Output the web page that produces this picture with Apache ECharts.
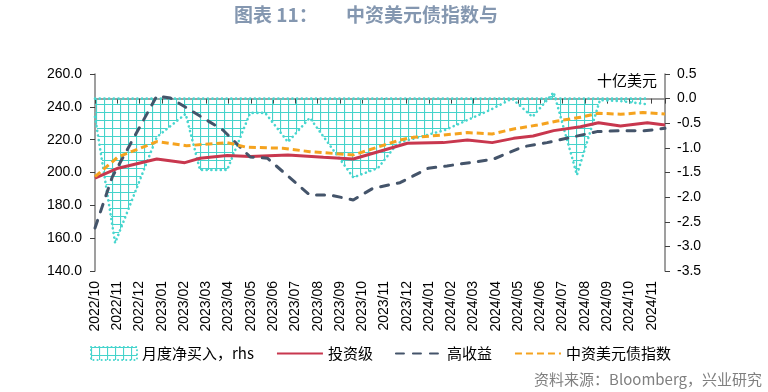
<!DOCTYPE html>
<html><head><meta charset="utf-8">
<script src="https://cdn.jsdelivr.net/npm/echarts/dist/echarts.min.js"></script>
<style>html,body{margin:0;padding:0;background:#fff}#c{width:768px;height:392px}</style>
</head><body><div id="c"></div>
<script>
// ---- data ----
const monthLabels = ['2022/10','2022/11','2022/12','2023/01','2023/02','2023/03','2023/04','2023/05','2023/06','2023/07','2023/08','2023/09','2023/10','2023/11','2023/12','2024/01','2024/02','2024/03','2024/04','2024/05','2024/06','2024/07','2024/08','2024/09','2024/10','2024/11'];

// 投资级 (lhs)
const igDates = ['2022-10-01','2022-11-02','2022-12-25','2023-02-02','2023-02-21','2023-03-30','2023-04-30','2023-06-21','2023-08-09','2023-09-19','2023-12-02','2024-01-21','2024-02-22','2024-03-27','2024-04-25','2024-05-22','2024-06-19','2024-07-26','2024-08-20','2024-09-19','2024-10-26','2024-11-19'];
const igValues = [196.5,202.6,208.2,206.0,208.7,210.3,209.8,210.7,209.3,208.2,217.8,218.2,219.8,218.2,220.8,222.2,225.5,227.9,230.3,228.3,230.3,228.9];

// 高收益 (lhs)
const hyDates = ['2022-10-01','2022-10-25','2022-12-25','2023-01-13','2023-02-21','2023-03-24','2023-04-30','2023-05-24','2023-07-21','2023-08-18','2023-09-19','2023-10-16','2023-11-22','2023-12-31','2024-01-26','2024-03-28','2024-05-08','2024-06-10','2024-08-18','2024-09-19','2024-10-20','2024-11-19'];
const hyValues = [166.2,197.3,246.6,245.4,234.4,225.9,209.5,208.7,186.3,186.3,183.3,190.4,193.8,202.6,204.0,208.0,215.7,218.2,224.9,225.5,225.3,226.9];

// 中资美元债指数 (lhs)
const idxDates = ['2022-10-01','2022-11-02','2022-12-25','2023-02-04','2023-03-30','2023-04-25','2023-06-14','2023-07-21','2023-09-19','2023-11-22','2023-12-10','2024-01-21','2024-02-22','2024-03-27','2024-04-25','2024-05-28','2024-06-24','2024-07-26','2024-08-20','2024-09-19','2024-10-20','2024-11-19'];
const idxValues = [197.5,209.5,218.8,216.3,218.2,215.4,214.8,212.7,210.7,219.8,221.4,222.8,224.3,223.5,226.5,228.9,231.4,233.6,236.1,235.5,236.5,235.6];

// 月度净买入 (rhs, 十亿美元)
const flowDates = ['2022-10-01','2022-10-29','2022-12-25','2023-02-03','2023-02-21','2023-03-30','2023-04-30','2023-05-21','2023-06-21','2023-07-21','2023-09-19','2023-10-23','2023-11-19','2024-01-23','2024-03-24','2024-04-23','2024-05-21','2024-06-10','2024-06-19','2024-07-21','2024-08-22','2024-09-19','2024-10-23'];
const flowValues = [-0.37,-2.93,-0.78,-0.31,-1.45,-1.45,-0.29,-0.29,-0.88,-0.39,-1.60,-1.41,-0.90,-0.64,-0.23,0.0,-0.37,-0.03,0.13,-1.55,-0.03,-0.05,-0.11];

const leftTicks = {min:140, max:260, step:20};
const rightTicks = {min:-3.5, max:0.5, step:0.5};

// ---- helpers ----
function toM(s){const p=s.split('-').map(Number);const dim=new Date(p[0],p[1],0).getDate();return (p[0]-2022)*12+(p[1]-10)+(p[2]-1)/dim;}
function pairs(ds,vs){return ds.map((d,i)=>[toM(d),vs[i]]);}

const TEAL='#49D6CF';
const cv=document.createElement('canvas');cv.width=8;cv.height=8;
const cx=cv.getContext('2d');cx.strokeStyle='#45D3CB';cx.lineWidth=1.2;
cx.beginPath();cx.moveTo(0,0.5);cx.lineTo(8,0.5);cx.moveTo(0.5,0);cx.lineTo(0.5,8);cx.stroke();
const hatch={image:cv,repeat:'repeat'};

const xMax=Math.max(toM(igDates[igDates.length-1]),toM(hyDates[hyDates.length-1]),toM(idxDates[idxDates.length-1]));
const CJK='"Noto Sans CJK SC", sans-serif';
const LAT='"Liberation Sans", Arial, sans-serif';
const axisLine={show:true,lineStyle:{color:'#7f7f7f',width:1.5}};
const axisTick={show:true,length:5,lineStyle:{color:'#404040',width:1}};
const noSym={opacity:0,color:'rgba(0,0,0,0)',borderWidth:0};

const chart=echarts.init(document.getElementById('c'),null,{renderer:'canvas'});
chart.setOption({
  animation:false,
  backgroundColor:'#fff',
  grid:{left:95,right:103,top:74,bottom:121,containLabel:false,outerBoundsMode:'none'},
  xAxis:{type:'value',min:0,max:xMax,interval:1,
    axisLine:axisLine,axisTick:axisTick,splitLine:{show:false},
    axisLabel:{rotate:90,margin:10,fontSize:14,fontFamily:LAT,color:'#000',
      formatter:v=>(Math.abs(v-Math.round(v))<1e-6&&monthLabels[Math.round(v)])?monthLabels[Math.round(v)]:''}},
  yAxis:[
    {type:'value',position:'left',min:leftTicks.min,max:leftTicks.max,interval:leftTicks.step,
     axisLine:axisLine,axisTick:axisTick,splitLine:{show:false},
     axisLabel:{margin:13,fontSize:14,fontFamily:LAT,color:'#000',formatter:v=>v.toFixed(1)}},
    {type:'value',position:'right',min:rightTicks.min,max:rightTicks.max,interval:rightTicks.step,
     axisLine:axisLine,axisTick:axisTick,splitLine:{show:false},
     axisLabel:{margin:12,fontSize:14,fontFamily:LAT,color:'#000',formatter:v=>v.toFixed(1)}}
  ],
  legend:{left:85,top:341,itemWidth:46,itemHeight:13,itemGap:22,selectedMode:false,
    textStyle:{fontSize:15,fontFamily:CJK,color:'#000'},
    data:[
      {name:'月度净买入，rhs',icon:'rect',itemStyle:{color:hatch,borderColor:TEAL,borderWidth:2,borderType:[0.1,4],borderCap:'round'}},
      {name:'投资级',itemStyle:noSym},{name:'高收益',itemStyle:noSym},{name:'中资美元债指数',itemStyle:noSym}
    ]},
  series:[
    {name:'月度净买入，rhs',type:'line',yAxisIndex:1,symbol:'none',data:pairs(flowDates,flowValues),
     lineStyle:{color:TEAL,width:2.6,type:[0.1,4.6],cap:'round'},itemStyle:{color:TEAL},
     areaStyle:{color:hatch,opacity:1},z:1},
    {name:'zero',type:'line',yAxisIndex:1,symbol:'none',silent:true,
     data:[[toM(flowDates[0]),0],[toM(flowDates[flowDates.length-1]),0]],
     lineStyle:{color:TEAL,width:2.6,type:[0.1,4.6],cap:'round'},z:1},
    {name:'投资级',type:'line',yAxisIndex:0,symbol:'none',data:pairs(igDates,igValues),
     lineStyle:{color:'#C8374E',width:3},itemStyle:{color:'#C8374E'},z:3},
    {name:'高收益',type:'line',yAxisIndex:0,symbol:'none',data:pairs(hyDates,hyValues),
     lineStyle:{color:'#44546A',width:3,type:[8,9],cap:'round'},itemStyle:{color:'#44546A'},z:3},
    {name:'中资美元债指数',type:'line',yAxisIndex:0,symbol:'none',data:pairs(idxDates,idxValues),
     lineStyle:{color:'#F5A31F',width:3,type:[7,4]},itemStyle:{color:'#F5A31F'},z:4}
  ],
  graphic:[
    {type:'text',left:234,top:5,style:{text:'图表 11：',font:'bold 19px '+CJK,fill:'#8497B0'}},
    {type:'text',left:346,top:5,style:{text:'中资美元债指数与',font:'bold 19px '+CJK,fill:'#8497B0'}},
    {type:'text',right:111,top:73,style:{text:'十亿美元',font:'15px '+CJK,fill:'#000'}},
    {type:'text',right:6,top:372,style:{text:'资料来源：Bloomberg，兴业研究',font:'15px '+CJK,fill:'#7F7F7F'}}
  ]
});
</script></body></html>
